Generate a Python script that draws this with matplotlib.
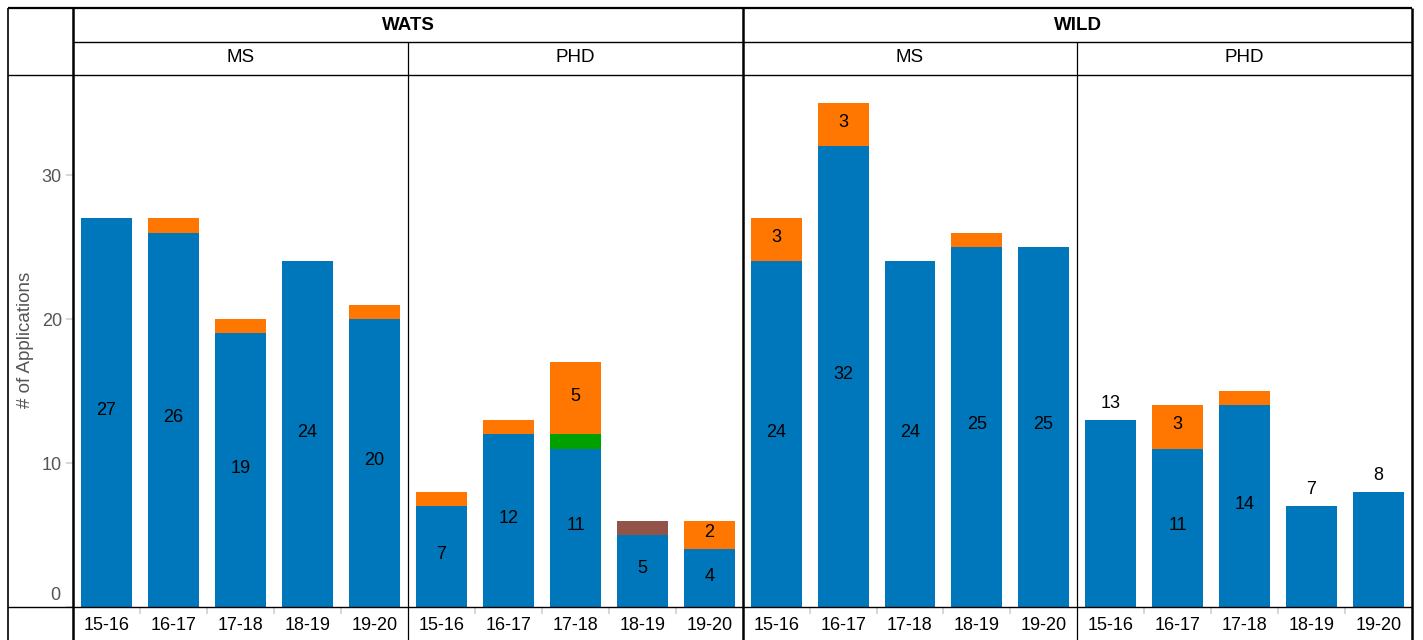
import matplotlib
matplotlib.use("Agg")
import matplotlib.pyplot as plt
from matplotlib.lines import Line2D
from matplotlib.transforms import offset_copy

plt.rcParams['font.family'] = ['Liberation Sans', 'DejaVu Sans']

# data
years = ['15-16', '16-17', '17-18', '18-19', '19-20']
programs = ['WATS', 'WILD']
degrees = ['MS', 'PHD']

wats_ms_blue = [27, 26, 19, 24, 20]
wats_ms_green = [0, 0, 0, 0, 0]
wats_ms_brown = [0, 0, 0, 0, 0]
wats_ms_orange = [0, 1, 1, 0, 1]

wats_phd_blue = [7, 12, 11, 5, 4]
wats_phd_green = [0, 0, 1, 0, 0]
wats_phd_brown = [0, 0, 0, 1, 0]
wats_phd_orange = [1, 1, 5, 0, 2]

wild_ms_blue = [24, 32, 24, 25, 25]
wild_ms_green = [0, 0, 0, 0, 0]
wild_ms_brown = [0, 0, 0, 0, 0]
wild_ms_orange = [3, 3, 0, 1, 0]

wild_phd_blue = [13, 11, 14, 7, 8]
wild_phd_green = [0, 0, 0, 0, 0]
wild_phd_brown = [0, 0, 0, 0, 0]
wild_phd_orange = [0, 3, 1, 0, 0]

y_ticks = [0, 10, 20, 30]

panels = [
    (wats_ms_blue, wats_ms_green, wats_ms_brown, wats_ms_orange),
    (wats_phd_blue, wats_phd_green, wats_phd_brown, wats_phd_orange),
    (wild_ms_blue, wild_ms_green, wild_ms_brown, wild_ms_orange),
    (wild_phd_blue, wild_phd_green, wild_phd_brown, wild_phd_orange),
]
# bars whose blue label sits above the bar instead of inside it
label_above = {3: [0, 3, 4]}

colors = ['#0077bb', '#00a000', '#945348', '#ff7700']
FS = 13

W, H = 1423, 640
fig = plt.figure(figsize=(W / 100, H / 100), dpi=100)


def fx(x):
    return x / W


def fy(y):
    return 1 - y / H


def hline(y, x0, x1, lw):
    fig.add_artist(Line2D([fx(x0), fx(x1)], [fy(y), fy(y)], color='black', lw=lw,
                          transform=fig.transFigure, solid_capstyle='butt'))


def vline(x, y0, y1, lw):
    fig.add_artist(Line2D([fx(x), fx(x)], [fy(y0), fy(y1)], color='black', lw=lw,
                          transform=fig.transFigure, solid_capstyle='butt'))


edges = [73, 408, 743, 1077, 1412]
top_px, bot_px = 75, 607
px_per_unit = 14.4
ymax = (bot_px - top_px) / px_per_unit

axes = []
for i, (blue, green, brown, orange) in enumerate(panels):
    x0, x1 = edges[i], edges[i + 1]
    ax = fig.add_axes([fx(x0), fy(bot_px), (x1 - x0) / W, (bot_px - top_px) / H])
    axes.append(ax)
    xs = range(len(years))
    bottom = [0] * len(years)
    for vals, c in zip([blue, green, brown, orange], colors):
        ax.bar(xs, vals, width=0.76, bottom=bottom, color=c, linewidth=0)
        for j, v in enumerate(vals):
            if v >= 2:
                if c == colors[0] and j in label_above.get(i, []):
                    ax.annotate(str(v), (j, bottom[j] + v), xytext=(0, 12),
                                textcoords='offset points', ha='center', va='center',
                                fontsize=FS)
                else:
                    ax.annotate(str(v), (j, bottom[j] + v / 2), xytext=(0, 1.5),
                                textcoords='offset points', ha='center', va='center',
                                fontsize=FS)
        bottom = [b + v for b, v in zip(bottom, vals)]
    ax.set_xlim(-0.5, len(years) - 0.5)
    ax.set_ylim(0, ymax)
    for s in ax.spines.values():
        s.set_visible(False)
    ax.set_xticks(list(xs))
    ax.set_xticklabels(years, fontsize=FS)
    ax.set_xticks([k + 0.5 for k in range(len(years) - 1)], minor=True)
    ax.tick_params(axis='x', which='major', length=0, pad=7)
    ax.tick_params(axis='x', which='minor', length=5, color='#d0d0d0', width=1.2)
    ax.set_yticks([])

# y axis on the first panel
ax0 = axes[0]
ax0.set_yticks(y_ticks)
ax0.set_yticklabels([''] + [str(t) for t in y_ticks[1:]], fontsize=FS, color='#555555')
ax0.tick_params(axis='y', length=5, color='#d0d0d0', width=1.2, pad=3)
ax0.text(-0.5, 0, str(y_ticks[0]), fontsize=FS, color='#555555', ha='right', va='center',
         transform=offset_copy(ax0.transData, fig=fig, x=-13, y=12, units='dots'))
fig.text(fx(25), fy(340), '# of Applications', rotation=90, ha='center', va='center',
         fontsize=13.5, color='#555555')

# table frame
hline(8, 8, 1412, 1.6)
hline(42, 73, 1412, 1.0)
hline(75, 8, 1412, 1.0)
hline(607, 8, 1412, 1.0)
vline(8, 8, 640, 1.2)
vline(73, 8, 640, 1.8)
vline(743, 8, 640, 1.8)
vline(1412, 8, 640, 1.8)
vline(408, 42, 640, 0.9)
vline(1077, 42, 640, 0.9)

# headers
for k, name in enumerate(programs):
    x0, x1 = edges[2 * k], edges[2 * k + 2]
    fig.text(fx((x0 + x1) / 2), fy(25), name, ha='center', va='center',
             fontsize=13.5, fontweight='bold')
for k in range(4):
    x0, x1 = edges[k], edges[k + 1]
    fig.text(fx((x0 + x1) / 2), fy(58), degrees[k % 2], ha='center', va='center',
             fontsize=13.5)

fig.savefig('out.png', dpi=100)
